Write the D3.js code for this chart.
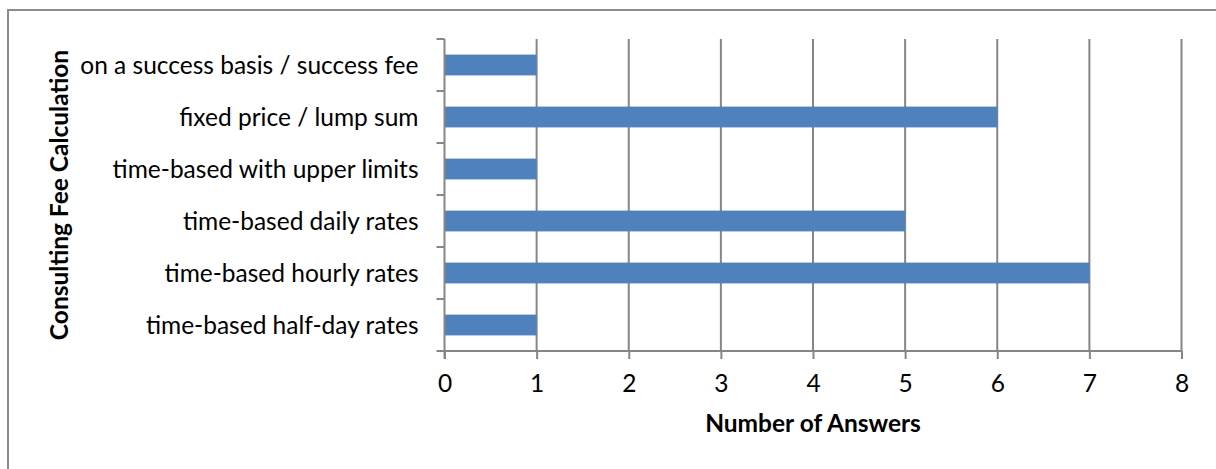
<!DOCTYPE html>
<html>
<head>
<meta charset="utf-8">
<script src="https://cdn.jsdelivr.net/npm/d3@7"></script>
<style>
  html, body { margin: 0; padding: 0; background: #fff; }
  svg { display: block; }
  text { font-family: Lato, "Open Sans", sans-serif; fill: #000; }
</style>
</head>
<body>
<svg id="chart" width="1216" height="469"></svg>
<script>
// Fee calculation methods, listed bottom to top as on the chart
const categories = [
  "time-based half-day rates",
  "time-based hourly rates",
  "time-based daily rates",
  "time-based with upper limits",
  "fixed price / lump sum",
  "on a success basis / success fee"
];
const answers = [1, 7, 5, 1, 6, 1];
const xTicks = [0, 1, 2, 3, 4, 5, 6, 7, 8];

const svg = d3.select("#chart");
const W = 1216, H = 469;
const plot = { left: 444.5, right: 1181.5, top: 39, bottom: 351 };
const gridColor = "#868686";
const fontSize = "24.5px";

// Outer chart border (runs off the right and bottom edges)
svg.append("rect")
  .attr("x", 8).attr("y", 10)
  .attr("width", W + 10).attr("height", H + 10)
  .attr("fill", "none").attr("stroke", "#8c8c8c").attr("stroke-width", 2);

const x = d3.scaleLinear().domain([0, 8]).range([plot.left, plot.right]);
const y = d3.scaleBand()
  .domain(categories.slice().reverse())
  .range([plot.top, plot.bottom])
  .paddingInner(0.6).paddingOuter(0.3);
const yOuter = d3.scaleBand()
  .domain(categories.slice().reverse())
  .range([plot.top, plot.bottom]);

// Vertical gridlines
svg.append("g").selectAll("line")
  .data(xTicks.filter(d => d > 0))
  .join("line")
  .attr("x1", d => x(d)).attr("x2", d => x(d))
  .attr("y1", plot.top).attr("y2", plot.bottom)
  .attr("stroke", gridColor).attr("stroke-width", 2);

// Bars
svg.append("g").selectAll("rect")
  .data(categories.map((c, i) => ({ c, v: answers[i] })))
  .join("rect")
  .attr("x", x(0))
  .attr("y", d => y(d.c))
  .attr("width", d => x(d.v) - x(0))
  .attr("height", y.bandwidth())
  .attr("fill", "#4F81BD");

// X axis
const xAxis = svg.append("g")
  .attr("transform", `translate(0,${plot.bottom})`)
  .call(d3.axisBottom(x).tickValues(xTicks).tickSize(8).tickPadding(16).tickFormat(d3.format("d")));
xAxis.select(".domain").attr("stroke", gridColor).attr("stroke-width", 2)
  .attr("d", `M${plot.left - 8},0H${plot.right}`);
xAxis.selectAll(".tick line").attr("stroke", gridColor).attr("stroke-width", 2);
xAxis.selectAll(".tick text").style("font-size", fontSize).attr("fill", "#000");

// Y axis with ticks at band boundaries
const yAxisG = svg.append("g");
yAxisG.append("line")
  .attr("x1", plot.left).attr("x2", plot.left)
  .attr("y1", plot.top).attr("y2", plot.bottom + 8)
  .attr("stroke", gridColor).attr("stroke-width", 2);
const bounds = yOuter.domain().map(c => yOuter(c));
yAxisG.selectAll("line.tk")
  .data(bounds)
  .join("line")
  .attr("class", "tk")
  .attr("x1", plot.left - 8).attr("x2", plot.left)
  .attr("y1", d => d).attr("y2", d => d)
  .attr("stroke", gridColor).attr("stroke-width", 2);
yAxisG.selectAll("text")
  .data(categories)
  .join("text")
  .attr("x", plot.left - 26)
  .attr("y", d => yOuter(d) + yOuter.bandwidth() / 2)
  .attr("dy", "0.35em")
  .attr("text-anchor", "end")
  .style("font-size", fontSize)
  .text(d => d);

// Axis titles
svg.append("text")
  .attr("x", (plot.left + plot.right) / 2)
  .attr("y", 432)
  .attr("text-anchor", "middle")
  .style("font-size", fontSize).style("font-weight", "bold")
  .text("Number of Answers");

svg.append("text")
  .attr("transform", `translate(68,${(plot.top + plot.bottom) / 2}) rotate(-90)`)
  .attr("text-anchor", "middle")
  .style("font-size", fontSize).style("font-weight", "bold")
  .text("Consulting Fee Calculation");
</script>
</body>
</html>
